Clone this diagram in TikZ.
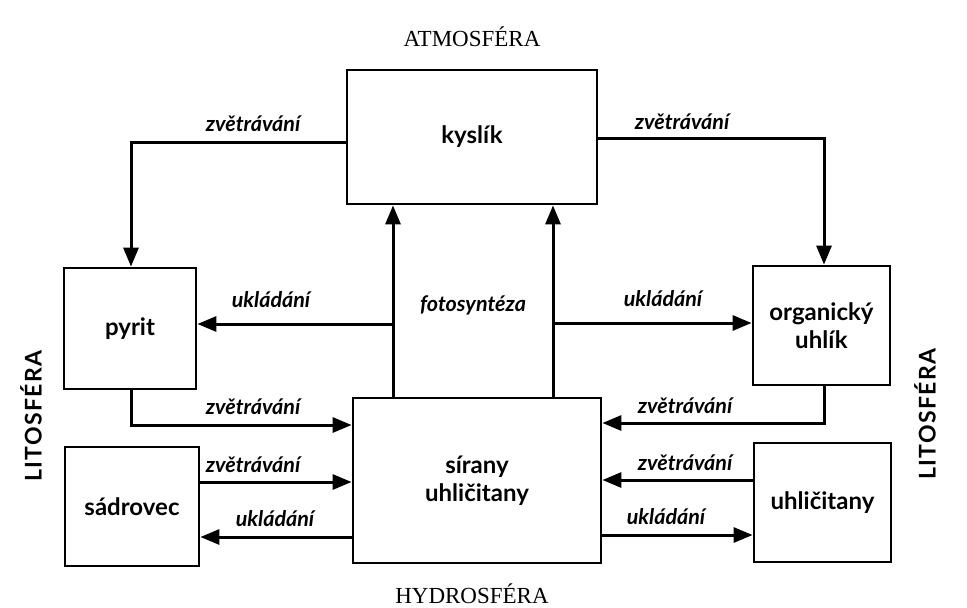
\documentclass[tikz,border=0pt]{standalone}
\usepackage{fontspec}
\setmainfont{Liberation Serif}
\newfontfamily\gsans{Lato}
\newfontfamily\litofont[LetterSpace=6]{Lato}
\usetikzlibrary{arrows.meta}
\tikzset{
  box/.style={draw, line width=2.8pt, inner sep=0pt, align=center, font=\gsans\bfseries\fontsize{24}{28}\selectfont},
  arr/.style={line width=3pt, -{Triangle[length=19pt,width=15pt]}},
  lab/.style={inner sep=0pt, font=\gsans\bfseries\itshape\fontsize{21.5}{24}\selectfont},
  sphere/.style={inner sep=0pt, font=\fontsize{23}{26}\selectfont},
  lito/.style={inner sep=0pt, rotate=90, font=\litofont\bfseries\fontsize{23}{26}\selectfont}
}
\begin{document}
\begin{tikzpicture}[x=1pt,y=-1pt]
\useasboundingbox (0,0) rectangle (967,608);
% boxes
\node[box, minimum width=250pt, minimum height=134pt] (kys) at (472,137) {kyslík};
\node[box, minimum width=248pt, minimum height=165pt] (sir) at (477,480.5) {sírany\\uhličitany};
\node[box, minimum width=132pt, minimum height=121pt] (pyr) at (130,328.5) {pyrit};
\node[box, minimum width=137pt, minimum height=119pt] (org) at (821.5,325.5) {organický\\uhlík};
\node[box, minimum width=134pt, minimum height=119pt] (sad) at (132,506.5) {sádrovec};
\node[box, minimum width=137pt, minimum height=119pt] (uhl) at (822.5,502.5) {uhličitany};
% sphere labels
\node[sphere] (atm) at (472,37) {ATMOSFÉRA};
\node[sphere] (hyd) at (472,594) {HYDROSFÉRA};
\node[lito] (litL) at (31,416) {LITOSFÉRA};
\node[lito] (litR) at (925,414) {LITOSFÉRA};
% helper coordinates
\coordinate (f1) at (393,0);
\coordinate (f2) at (553,0);
\coordinate (kl) at (0,142);
\coordinate (kr) at (0,138);
\coordinate (pl) at (0,324);
\coordinate (pr) at (0,323);
\coordinate (p1) at (0,425);
\coordinate (o1) at (0,423);
\coordinate (r1) at (0,482);
\coordinate (r2) at (0,537);
\coordinate (u1) at (0,480);
\coordinate (u2) at (0,535);
\coordinate (pyx) at (131,0);
\coordinate (orx) at (824,0);
% connectors
\draw[arr] (kys.west |- kl) -| (pyr.north -| pyx);
\draw[arr] (kys.east |- kr) -| (org.north -| orx);
\draw[arr] (sir.north -| f1) -- (kys.south -| f1);
\draw[arr] (sir.north -| f2) -- (kys.south -| f2);
\draw[arr] (f1 |- pl) -- (pyr.east |- pl);
\draw[arr] (f2 |- pr) -- (org.west |- pr);
\draw[arr] (pyr.south -| pyx) |- (sir.west |- p1);
\draw[arr] (org.south -| orx) |- (sir.east |- o1);
\draw[arr] (sad.east |- r1) -- (sir.west |- r1);
\draw[arr] (sir.west |- r2) -- (sad.east |- r2);
\draw[arr] (uhl.west |- u1) -- (sir.east |- u1);
\draw[arr] (sir.east |- u2) -- (uhl.west |- u2);
% labels
\node[lab] (l1) at (253,124) {zvětrávání};
\node[lab] (l2) at (682,122) {zvětrávání};
\node[lab] (l3) at (271,300) {ukládání};
\node[lab] (l4) at (663,299) {ukládání};
\node[lab] (l5) at (473,305) {fotosyntéza};
\node[lab] (l6) at (253,407) {zvětrávání};
\node[lab] (l7) at (685,406) {zvětrávání};
\node[lab] (l8) at (253,465) {zvětrávání};
\node[lab] (l9) at (275,519) {ukládání};
\node[lab] (l10) at (685,463) {zvětrávání};
\node[lab] (l11) at (666,517) {ukládání};
\end{tikzpicture}
\end{document}
